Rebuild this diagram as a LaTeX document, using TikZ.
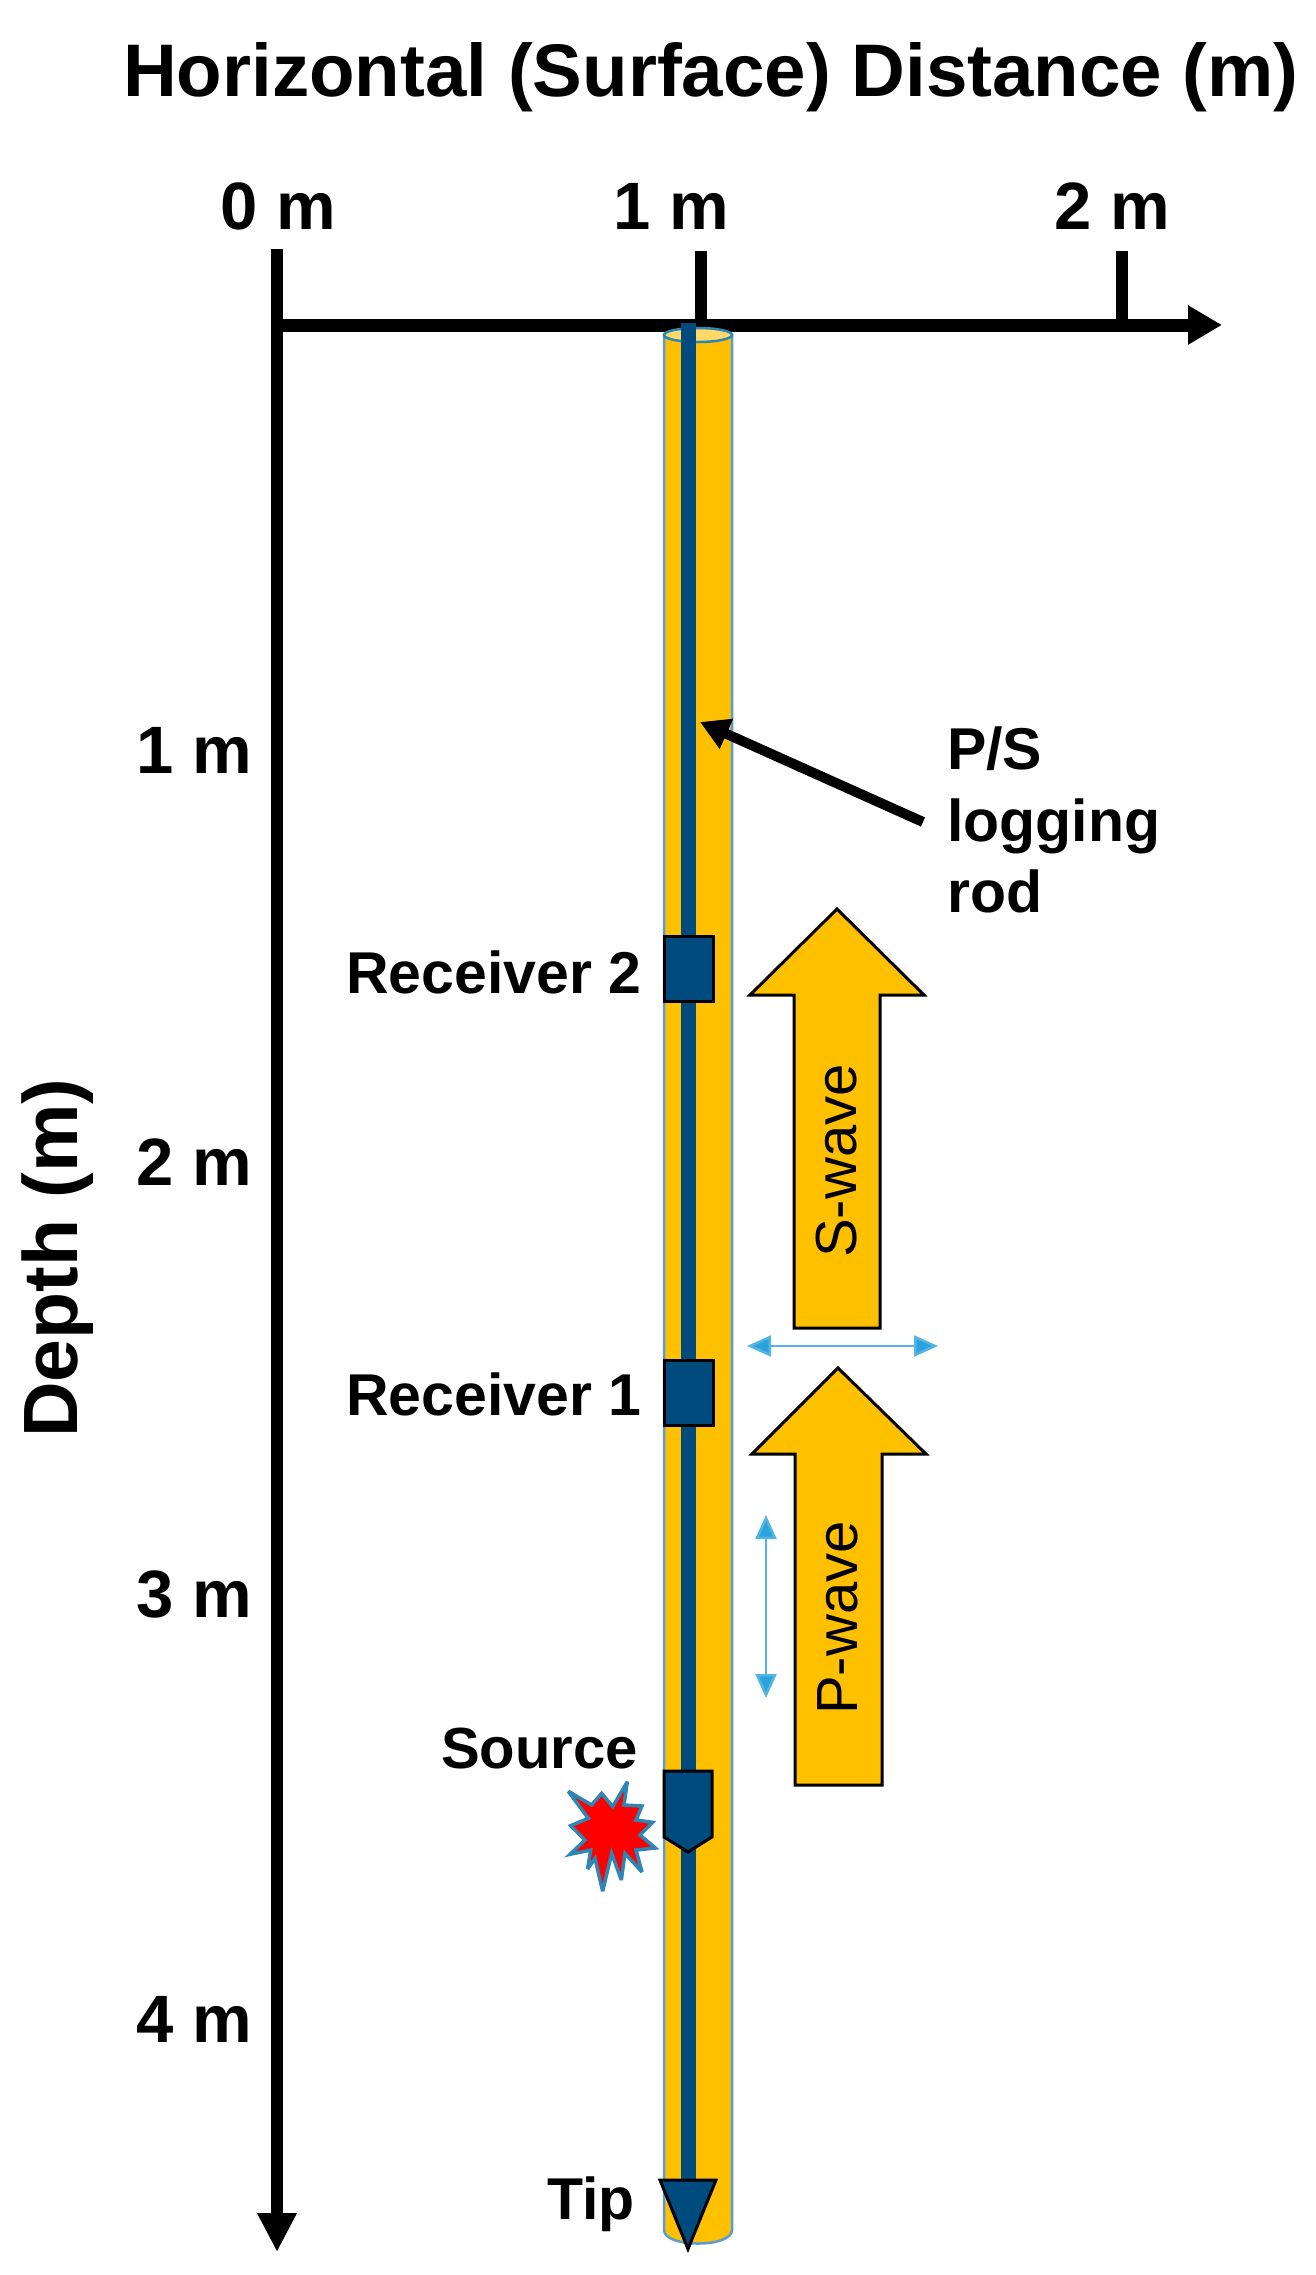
\documentclass[tikz,border=0pt]{standalone}
\usepackage{fontspec}
\setmainfont{Liberation Sans}
\usetikzlibrary{arrows.meta}
\definecolor{amber}{HTML}{FFC000}
\definecolor{amberlt}{HTML}{FFD966}
\definecolor{rodblue}{HTML}{004B7D}
\definecolor{edgeblue}{HTML}{5B9BD5}
\definecolor{skyblue}{HTML}{29A3DE}
\definecolor{starblue}{HTML}{2E86B5}
\tikzset{
  x=1pt,y=-1pt,
  lab/.style={font=\fontsize{#1}{#1}\selectfont\bfseries,inner sep=0pt,text=black},
  lab/.default=59,
  wave/.style={font=\fontsize{58}{58}\selectfont,inner sep=0pt,text=black,rotate=90},
  axis/.style={line width=12pt,black},
  tick/.style={line width=11.5pt,black},
  bigarrow/.style={fill=amber,draw=black,line width=3pt,miter limit=6,line join=miter},
  part/.style={fill=rodblue,draw=black,line width=3pt,line join=miter},
  dbl/.style={skyblue!80!white,line width=2.5pt,{Triangle[length=24pt,width=21pt,fill=skyblue]}-{Triangle[length=24pt,width=21pt,fill=skyblue]}},
}
\begin{document}
\begin{tikzpicture}
\useasboundingbox (0,0) rectangle (1315,2275);
% coordinates
\coordinate (origin) at (277,325);
\coordinate (xend) at (1222,325);
\coordinate (yend) at (277,2252);
\coordinate (t0) at (277,249);
\coordinate (t1) at (701,251);
\coordinate (t1b) at (701,325);
\coordinate (t2) at (1122,251);
\coordinate (t2b) at (1122,325);
% axes
\draw[axis] (t0) -- (origin);
\draw[axis,-{Triangle[length=39pt,width=37pt]}] (origin) -- (yend);
\draw[tick] (t1) -- (t1b);
\draw[tick] (t2) -- (t2b);
\draw[line width=13pt,-{Triangle[length=34pt,width=37pt]},shorten <=-5pt] (origin) -- (xend);
% tube
\path[fill=amber,draw=edgeblue,line width=2.5pt]
  (664,335) -- (664,2230) .. controls (664,2248) and (732,2248) .. (732,2230) -- (732,335) -- cycle;
\path[fill=amberlt,draw=starblue,line width=2.5pt] (698,335) ellipse [x radius=34,y radius=7];
\coordinate (rodtop) at (688.5,323);
\coordinate (rodbot) at (688.5,2190);
\draw[rodblue,line width=14.5pt] (rodtop) -- (rodbot);
% instrument parts
\path[part] (664,936) rectangle (713,1001);
\path[part] (664,1360) rectangle (713,1425);
\path[part] (664,1771) -- (712,1771) -- (712,1837) -- (688,1852) -- (664,1837) -- cycle;
\path[part] (660,2180) -- (716,2180) -- (688,2249) -- cycle;
% star
\begin{scope}[shift={(550,1760)},x=0.3333pt,y=-0.3333pt]
\path[fill=red,draw=starblue,line width=3.5pt,miter limit=4,line join=miter]
 (232,65) -- (222,135) -- (276,138) -- (258,180) -- (308,187) -- (270,225) -- (316,264)
 -- (258,270) -- (276,336) -- (225,280) -- (214,360) -- (185,280) -- (158,394) -- (135,295)
 -- (113,327) -- (122,270) -- (60,283) -- (105,240) -- (62,197) -- (115,175) -- (55,94)
 -- (125,135) -- (155,100) -- (188,140) -- cycle;
\end{scope}
% wave arrows
\path[bigarrow] (837,909) -- (924,995) -- (880,995) -- (880,1328) -- (794,1328) -- (794,995) -- (750,995) -- cycle;
\path[bigarrow] (838,1368) -- (926,1454) -- (882,1454) -- (882,1785) -- (795,1785) -- (795,1454) -- (752,1454) -- cycle;
\node[wave] (swave) at (837,1161) {S-wave};
\node[wave] (pwave) at (838,1618) {P-wave};
% polarisation arrows
\coordinate (ha) at (747,1346);
\coordinate (hb) at (938,1346);
\coordinate (va) at (766,1515);
\coordinate (vb) at (766,1698);
\draw[dbl] (ha) -- (hb);
\draw[dbl] (va) -- (vb);
% labels
\node[lab=74.5,anchor=base] (title) at (711,96) {Horizontal (Surface) Distance (m)};
\node[lab=67,anchor=base] (x0) at (278,229) {0 m};
\node[lab=67,anchor=base] (x1) at (671,229) {1 m};
\node[lab=67,anchor=base] (x2) at (1112,229) {2 m};
\node[lab=67,anchor=base] (d1) at (194,773) {1 m};
\node[lab=67,anchor=base] (d2) at (194,1185) {2 m};
\node[lab=67,anchor=base] (d3) at (194,1617) {3 m};
\node[lab=67,anchor=base] (d4) at (194,2042) {4 m};
\node[lab=77,rotate=90] (depth) at (58,1258) {Depth (m)};
\node[lab,anchor=base west] (rec2) at (346,993) {Receiver 2};
\node[lab,anchor=base west] (rec1) at (346,1415) {Receiver 1};
\node[lab=58,anchor=base east] (src) at (638,1768) {Source};
\node[lab,anchor=base west] (tip) at (547,2219) {Tip};
\node[lab,anchor=base west] (ps1) at (947,769) {P/S};
\node[lab,anchor=base west] (ps2) at (947,841) {logging};
\node[lab,anchor=base west] (ps3) at (947,912) {rod};
% pointer
\coordinate (ptr) at (923,822);
\coordinate (ptrtip) at (700,722);
\draw[line width=10pt,-{Triangle[length=29pt,width=31pt]}] (ptr) -- (ptrtip);
\end{tikzpicture}
\end{document}
